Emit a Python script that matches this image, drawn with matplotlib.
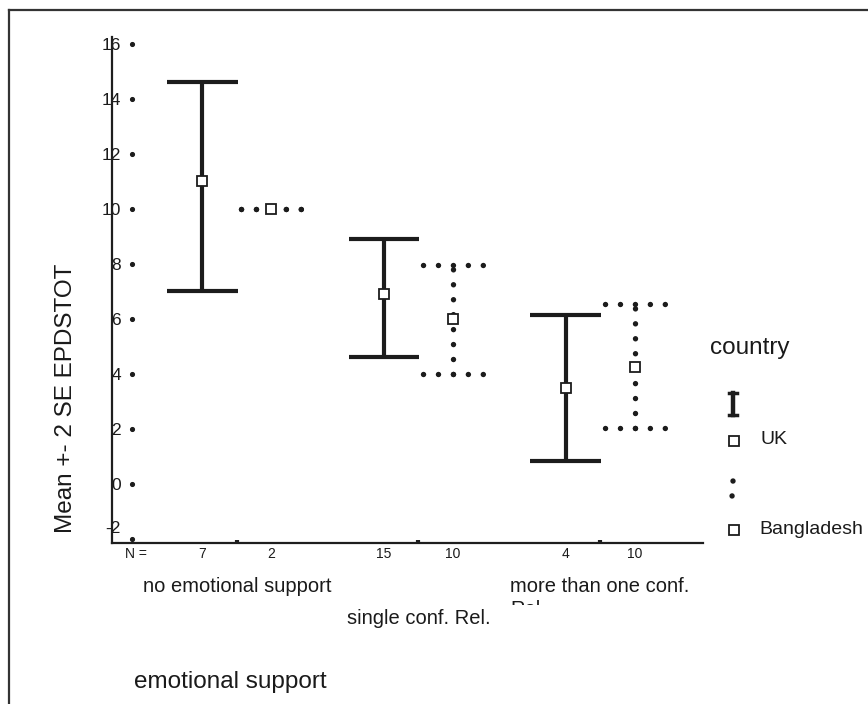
import matplotlib
matplotlib.use("Agg")
import matplotlib.pyplot as plt
from matplotlib.lines import Line2D
from matplotlib.transforms import Bbox, blended_transform_factory, offset_copy
import numpy as np

plt.rcParams['font.family'] = ['Liberation Sans', 'DejaVu Sans']

# ---------------- data ----------------
group_labels = ["no emotional support", "single conf. Rel.", "more than one conf.\nRel."]
countries = ["UK", "Bangladesh"]
uk_mean = [11.0, 6.9, 3.5]
uk_low = [7.0, 4.6, 0.85]
uk_high = [14.6, 8.9, 6.15]
bd_mean = [10.0, 6.0, 4.25]
bd_low = [10.0, 4.0, 2.05]
bd_high = [10.0, 7.95, 6.55]
uk_n = [7, 15, 4]
bd_n = [2, 10, 10]
yticks = [16, 14, 12, 10, 8, 6, 4, 2, 0, -2]
ylabel = "Mean +- 2 SE EPDSTOT"
xlabel = "emotional support"
legend_title = "country"

W, H = 868, 704
fig = plt.figure(figsize=(W / 100, H / 100), dpi=100)
fig.patch.set_facecolor('white')


def fx(px):
    return px / W


def fy(py):
    return 1 - py / H


ax = fig.add_axes([fx(112), fy(543), fx(703) - fx(112), fy(37) - fy(543)])
ax.set_xlim(0.313, 3.566)
ax.set_ylim(-2.15, 16.25)
for s in ['top', 'right']:
    ax.spines[s].set_visible(False)
for s in ['left', 'bottom']:
    ax.spines[s].set_linewidth(1.6)
    ax.spines[s].set_color('#1e1e1e')

dark = '#1c1c1c'
pos = np.arange(1, len(group_labels) + 1)
off = 0.19

# UK error bars (solid, thick)
uk_x = pos - off
ax.vlines(uk_x, uk_low, uk_high, colors=dark, lw=3.0)
ax.hlines(uk_low, uk_x - 0.195, uk_x + 0.195, colors=dark, lw=3.0)
ax.hlines(uk_high, uk_x - 0.195, uk_x + 0.195, colors=dark, lw=3.0)

# Bangladesh error bars (dotted)
bd_x = pos + off
dot = dict(color=dark, lw=3.9, ls=(0, (0.01, 2.75)), dash_capstyle='round')
for x, lo, hi in zip(bd_x, bd_low, bd_high):
    if hi > lo:
        ax.plot([x, x], [lo, hi], **dot)
    ax.plot([x - 0.165, x + 0.165], [lo, lo], **dot)
    ax.plot([x - 0.165, x + 0.165], [hi, hi], **dot)

# means
ax.plot(uk_x, uk_mean, 's', ms=7, mfc='white', mec=dark, mew=1.3, zorder=5)
ax.plot(bd_x, bd_mean, 's', ms=7, mfc='white', mec=dark, mew=1.3, zorder=5)

# y ticks
ax.set_yticks(yticks)
ax.set_yticklabels([str(t) for t in yticks])
ax.tick_params(axis='y', length=0, pad=-6.5, labelsize=12.5, labelcolor='#1a1a1a')
for t in ax.yaxis.get_major_ticks():
    t.label1.set_horizontalalignment('right')
    if t.get_loc() == -2:
        t.label1.set_transform(offset_copy(t.label1.get_transform(), fig=fig, x=0, y=12, units='dots'))
blend_y = blended_transform_factory(ax.transAxes, ax.transData)
ax.plot(np.full(len(yticks), 0.034), yticks, 'o', ms=2.7, color=dark,
        transform=blend_y, clip_on=False)

# x ticks as small dots on the axis
ax.set_xticks(pos)
ax.set_xticklabels([])
ax.tick_params(axis='x', direction='in', length=2.5, width=3, color=dark)

# N row
blend_x = blended_transform_factory(ax.transData, ax.transAxes)
ax.text(0.041, -0.022, "N =", transform=ax.transAxes, ha='center', va='center',
        fontsize=10, color='#1a1a1a')
for x, n in zip(uk_x, uk_n):
    ax.text(x, -0.022, str(n), transform=blend_x, ha='center', va='center',
            fontsize=10, color='#1a1a1a')
for x, n in zip(bd_x, bd_n):
    ax.text(x, -0.022, str(n), transform=blend_x, ha='center', va='center',
            fontsize=10, color='#1a1a1a')

# category labels (staggered)
clip = Bbox([[0, fy(605) * H], [W, H]])
for i, (x, lab) in enumerate(zip(pos, group_labels)):
    y = -0.067 if i % 2 == 0 else -0.131
    t = ax.text(x, y, lab, transform=blend_x, ha='center', va='top',
                multialignment='left', fontsize=14.5, color='#1a1a1a',
                linespacing=1.3)
    if '\n' in lab:
        t.set_clip_box(clip)
        t.set_clip_on(True)

# axis titles
fig.text(fx(66), fy(398), ylabel, rotation=90, ha='center', va='center',
         fontsize=17.5, color='#1a1a1a')
fig.text(fx(134), fy(682), xlabel, ha='left', va='center', fontsize=17.5,
         color='#1a1a1a')

# legend
fig.text(fx(710), fy(348), legend_title, ha='left', va='center', fontsize=17.5,
         color='#1a1a1a')
# UK symbol: I-beam
fig.add_artist(Line2D([fx(733), fx(733)], [fy(393), fy(415)], color=dark, lw=3.2))
fig.add_artist(Line2D([fx(729), fx(737)], [fy(393), fy(393)], color=dark, lw=2.5))
fig.add_artist(Line2D([fx(729), fx(737)], [fy(415), fy(415)], color=dark, lw=2.5))
fig.add_artist(Line2D([fx(734)], [fy(441)], marker='s', ms=7, mfc='white', mec=dark, mew=1.3))
fig.text(fx(760), fy(440), countries[0], ha='left', va='center', fontsize=14, color='#1a1a1a')
# Bangladesh symbol: dots
fig.add_artist(Line2D([fx(733), fx(732)], [fy(481), fy(497)], color=dark, lw=3.9,
                      ls=(0, (0.01, 2.75)), dash_capstyle='round'))
fig.add_artist(Line2D([fx(734)], [fy(530)], marker='s', ms=7, mfc='white', mec=dark, mew=1.3))
fig.text(fx(759), fy(529), countries[1], ha='left', va='center', fontsize=14, color='#1a1a1a')

# outer frame (left and top)
fig.add_artist(Line2D([fx(9), fx(9)], [fy(10), 0], color='#333333', lw=1.6))
fig.add_artist(Line2D([fx(9), 1], [fy(10), fy(10)], color='#333333', lw=1.6))

fig.savefig("out.png", dpi=100, facecolor='white')
